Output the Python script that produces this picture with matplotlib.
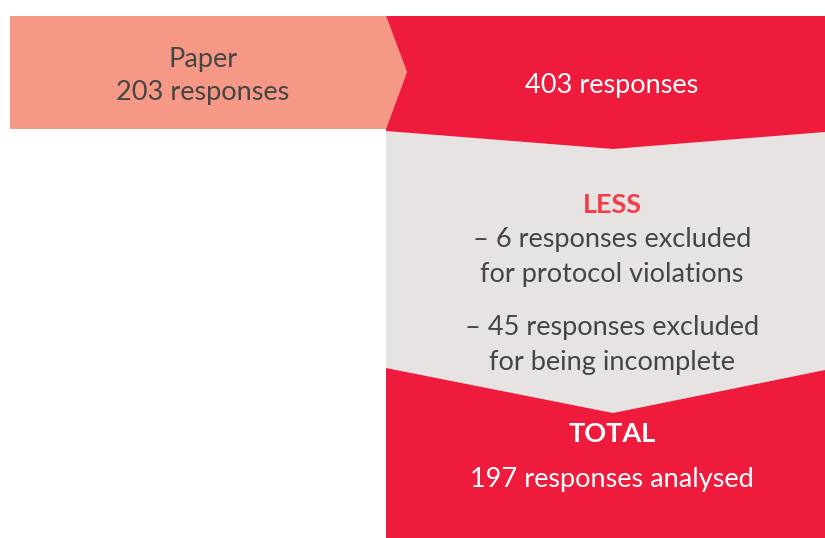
import matplotlib.pyplot as plt
from matplotlib.patches import Polygon

# data
paper_label = "Paper"
paper_count = 203
total_count = 403
excluded_counts = [6, 45]
excluded_reasons = ["for protocol violations", "for being incomplete"]
final_count = 197

SALMON = "#F69886"
RED = "#EE1B3D"
GREY = "#E6E3E2"
DARK = "#454545"
LESS_RED = "#EF3E4A"

plt.rcParams['font.family'] = ['Lato', 'DejaVu Sans']

fig = plt.figure(figsize=(8.25, 5.38), dpi=100)
ax = fig.add_axes([0, 0, 1, 1])
ax.set_xlim(0, 825)
ax.set_ylim(538, 0)
ax.axis('off')

# shapes
salmon = [(10, 16), (386, 16), (407, 72), (386, 129), (10, 129)]
red_top = [(386, 16), (825, 16), (825, 132), (613, 149), (386, 131), (386, 129), (407, 72)]
grey = [(386, 131), (613, 149), (825, 132), (825, 370), (613, 413), (386, 368)]
red_bottom = [(386, 368), (613, 413), (825, 370), (825, 538), (386, 538)]

for pts, col in [(grey, GREY), (red_bottom, RED), (salmon, SALMON), (red_top, RED)]:
    ax.add_patch(Polygon(pts, closed=True, facecolor=col, edgecolor='none'))

fs = 19.5
ax.text(203, 67, paper_label, ha='center', va='baseline', fontsize=fs, color=DARK)
ax.text(203, 100, f"{paper_count} responses", ha='center', va='baseline', fontsize=fs, color=DARK)
ax.text(612, 93, f"{total_count} responses", ha='center', va='baseline', fontsize=fs, color='white')

ax.text(612, 213, "LESS", ha='center', va='baseline', fontsize=fs, color=LESS_RED, fontweight='bold')
base = [247, 335]
for n, reason, y in zip(excluded_counts, excluded_reasons, base):
    ax.text(612, y, f"\u2013 {n} responses excluded", ha='center', va='baseline', fontsize=fs, color=DARK)
    ax.text(612, y + 35, reason, ha='center', va='baseline', fontsize=fs, color=DARK)

ax.text(612, 442, "TOTAL", ha='center', va='baseline', fontsize=fs, color='white', fontweight='bold')
ax.text(612, 487, f"{final_count} responses analysed", ha='center', va='baseline', fontsize=fs, color='white')

fig.savefig("out.png", dpi=100)
